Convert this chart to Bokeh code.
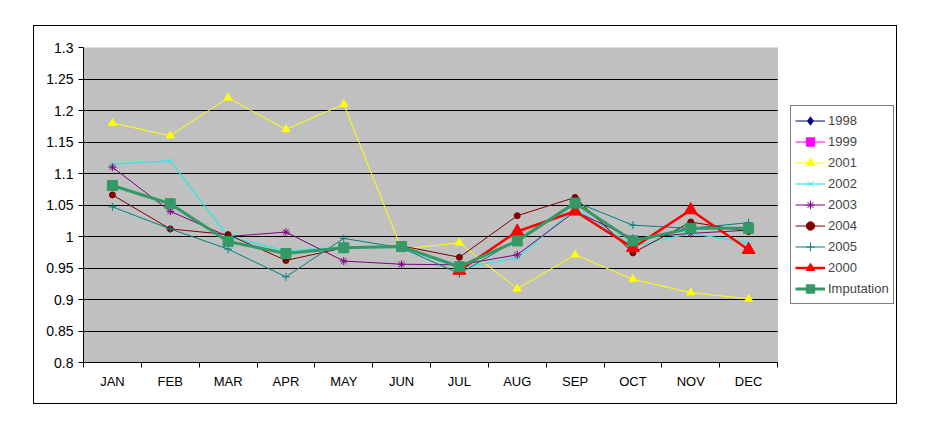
from bokeh.plotting import figure
from bokeh.models import Range1d, FixedTicker, Legend, LegendItem, BoxAnnotation, Grid
from bokeh.embed import file_html
from bokeh.resources import INLINE

NaN = float("nan")

months = ["JAN", "FEB", "MAR", "APR", "MAY", "JUN", "JUL", "AUG", "SEP", "OCT", "NOV", "DEC"]
months_2000 = ["JUL", "AUG", "SEP", "OCT", "NOV", "DEC"]

y_ticks = [0.8, 0.85, 0.9, 0.95, 1.0, 1.05, 1.1, 1.15, 1.2, 1.25, 1.3]
y_tick_labels = ["0.8", "0.85", "0.9", "0.95", "1", "1.05", "1.1", "1.15", "1.2", "1.25", "1.3"]

# 1998 and 1999 appear only in the legend (no visible points)
v1998 = [NaN] * 12
v1999 = [NaN] * 12
v2001 = [1.18, 1.16, 1.22, 1.17, 1.21, 0.98, 0.99, 0.917, 0.971, 0.932, 0.911, 0.901]
v2002 = [1.115, 1.12, 1.0, 0.977, 0.983, 0.982, 0.95, 0.966, 1.045, 0.985, 1.005, 0.99]
v2003 = [1.11, 1.04, 1.0, 1.007, 0.961, 0.956, 0.955, 0.971, 1.04, 0.997, 1.005, 1.01]
v2004 = [1.066, 1.012, 1.003, 0.962, 0.982, 0.985, 0.967, 1.033, 1.062, 0.974, 1.023, 1.008]
v2005 = [1.047, 1.012, 0.98, 0.936, 0.997, 0.982, 0.941, 0.995, 1.055, 1.018, 1.013, 1.022]
v2000 = [0.946, 1.008, 1.04, 0.982, 1.042, 0.979]
v_imp = [1.081, 1.052, 0.992, 0.973, 0.982, 0.984, 0.952, 0.993, 1.053, 0.993, 1.013, 1.013]

FONT = "Liberation Sans"
N = len(months)

def xpos(cats):
    return [months.index(c) + 0.5 for c in cats]

# layout: figure interior 864 x 379; plot area 694 px wide, frame extends to host the legend
FIG_W, FIG_H = 864, 379
LEFT, RIGHT, TOP, BOTTOM = 49, 2, 21, 43
PLOT_W = 694
frame_w = FIG_W - LEFT - RIGHT
x_end = N * frame_w / PLOT_W

p = figure(width=FIG_W, height=FIG_H, output_backend="svg", toolbar_location=None,
           x_range=Range1d(0, x_end), y_range=Range1d(0.8, 1.3),
           min_border_left=LEFT, min_border_right=RIGHT, min_border_top=TOP, min_border_bottom=BOTTOM)
p.margin = (25, 0, 0, 33)
p.styles = {"border": "1px solid black"}

p.background_fill_color = "white"
p.border_fill_color = "white"
p.outline_line_color = None

plot_area = BoxAnnotation(left=0, right=N, bottom=0.8, top=1.3,
                          fill_color="#C0C0C0", fill_alpha=1,
                          line_color="#808080", line_width=1, level="image")
p.add_layout(plot_area)

p.xgrid.visible = False
if "cross_bounds" in Grid.properties():
    p.ygrid.ticker = FixedTicker(ticks=y_ticks)
    p.ygrid.grid_line_color = "black"
    p.ygrid.grid_line_width = 1
    p.ygrid.cross_bounds = (0, N)
else:
    p.ygrid.visible = False
    p.segment(x0=0, x1=N, y0=y_ticks, y1=y_ticks, line_color="black", line_width=1, level="underlay")

p.yaxis.ticker = FixedTicker(ticks=y_ticks)
p.yaxis.major_label_overrides = {t: l for t, l in zip(y_ticks, y_tick_labels)}
p.yaxis.major_tick_out = 5
p.yaxis.major_tick_in = 0
p.yaxis.minor_tick_line_color = None
p.yaxis.axis_line_color = "black"
p.yaxis.major_tick_line_color = "black"
p.yaxis.major_label_standoff = 5
p.yaxis.major_label_text_font_size = "14px"

centers = xpos(months)
p.xaxis.ticker = FixedTicker(ticks=centers, minor_ticks=list(range(N + 1)))
p.xaxis.major_label_overrides = {c: m for c, m in zip(centers, months)}
p.xaxis.bounds = (0, N)
p.xaxis.major_tick_line_color = None
p.xaxis.major_tick_out = 5
p.xaxis.major_tick_in = 0
p.xaxis.minor_tick_out = 5
p.xaxis.minor_tick_in = 0
p.xaxis.minor_tick_line_color = "black"
p.xaxis.axis_line_color = "black"
p.xaxis.major_label_standoff = 6
p.xaxis.major_label_text_font_size = "13px"

for ax in (p.xaxis, p.yaxis):
    ax.major_label_text_font = FONT
    ax.major_label_text_color = "black"

series = [
    ("1998", months, v1998, "#000080", "diamond", 9, 1),
    ("1999", months, v1999, "#FF00FF", "square", 6, 1),
    ("2001", months, v2001, "#FFFF00", "triangle", 8, 1),
    ("2002", months, v2002, "#33E6E6", "x", 7, 1.3),
    ("2003", months, v2003, "#800080", "asterisk", 8, 1),
    ("2004", months, v2004, "#800000", "circle", 6, 1),
    ("2005", months, v2005, "#008080", "cross", 8, 1),
    ("2000", months_2000, v2000, "#FF0000", "triangle", 13, 2.5),
    ("Imputation", months, v_imp, "#339966", "square", 10, 3),
]

items = []
for name, cats, vals, color, marker, size, lw in series:
    xs = xpos(cats)
    r1 = p.line(xs, vals, line_color=color, line_width=lw)
    r2 = p.scatter(xs, vals, marker=marker, size=size, fill_color=color,
                   line_color=color, line_width=1)
    items.append(LegendItem(label=name, renderers=[r1, r2]))

legend = Legend(items=items, location=(707, 58))
legend.label_text_font = FONT
legend.label_text_font_size = "13px"
legend.border_line_color = "black"
legend.border_line_width = 1
legend.background_fill_color = "white"
legend.background_fill_alpha = 1
legend.glyph_width = 30
legend.glyph_height = 21
legend.label_height = 21
legend.spacing = 0
legend.padding = 4
legend.label_standoff = 3
legend.margin = 0
p.add_layout(legend)

open("out.html", "w").write(file_html(p, INLINE))
